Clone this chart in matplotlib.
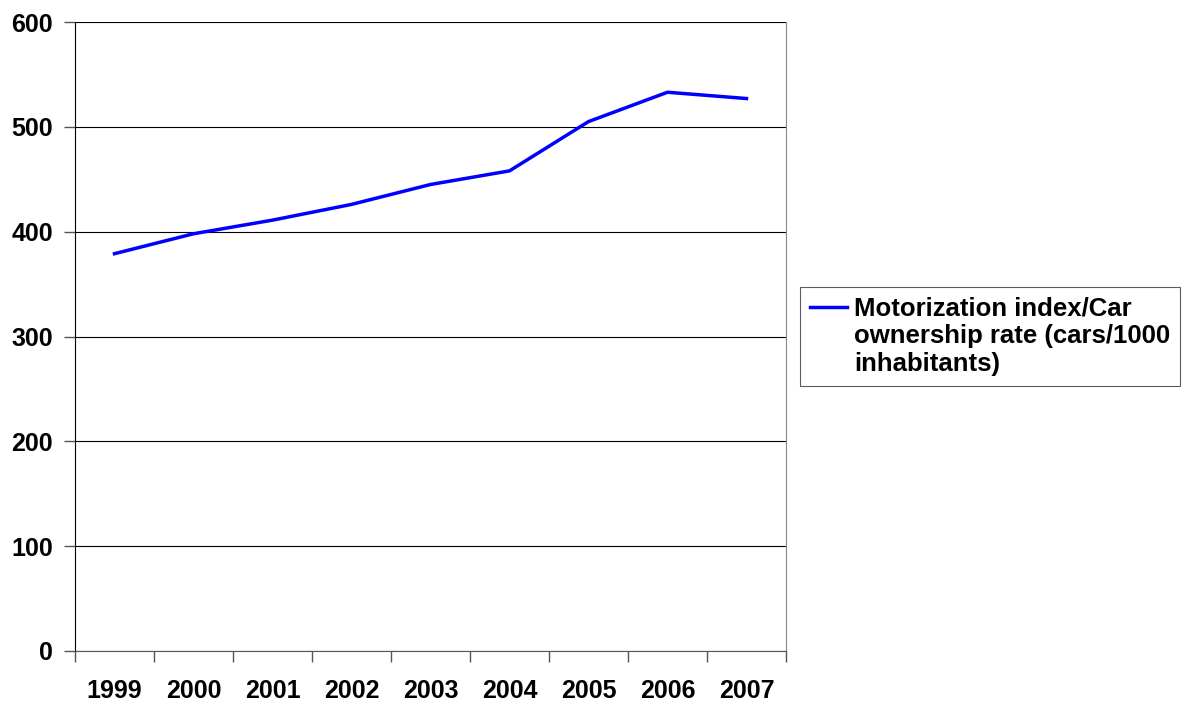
import matplotlib.pyplot as plt
from matplotlib.lines import Line2D
import numpy as np

plt.rcParams['font.family'] = ['Liberation Sans', 'DejaVu Sans']

# data
years = ["1999", "2000", "2001", "2002", "2003", "2004", "2005", "2006", "2007"]
motorization = [379, 398, 411, 426, 445, 458, 505, 533, 527]
label_lines = ["Motorization index/Car", "ownership rate (cars/1000", "inhabitants)"]

fig = plt.figure(figsize=(11.87, 7.02), dpi=100)
ax = fig.add_axes([75 / 1187, 1 - 651 / 702, (786 - 75) / 1187, (651 - 22) / 702])

x = np.arange(len(years))
line, = ax.plot(x, motorization, color="#0000ff", linewidth=2.5)

ax.set_xlim(-0.5, len(years) - 0.5)
ax.set_ylim(0, 600)
ax.set_yticks(range(0, 601, 100))
ax.set_yticklabels([str(v) for v in range(0, 601, 100)], fontsize=18, fontweight="bold")
ax.tick_params(axis="y", length=8, width=1, color="#555555", pad=8)

# category ticks on boundaries, labels in the middle
ax.set_xticks(np.arange(-0.5, len(years), 1.0))
ax.set_xticklabels([])
ax.set_xticks(x, minor=True)
ax.set_xticklabels(years, minor=True, fontsize=18, fontweight="bold")
ax.tick_params(axis="x", which="major", length=8, width=1, color="#555555")
ax.tick_params(axis="x", which="minor", length=0, pad=20)

ax.grid(axis="y", color="black", linewidth=0.8)
ax.set_axisbelow(True)
ax.spines["top"].set_visible(False)
ax.spines["left"].set_color("black")
ax.spines["bottom"].set_color("#555555")
ax.spines["right"].set_color("#888888")

# legend: line handle sits next to the first text line
blank = Line2D([], [], color="none")
leg = fig.legend([line, blank, blank], label_lines, loc="upper left",
                 bbox_to_anchor=(800 / 1187, 1 - 287 / 702),
                 prop={"size": 18.5, "weight": "bold"}, frameon=True, fancybox=False,
                 handlelength=1.45, handletextpad=0.27, borderpad=0.38,
                 labelspacing=0.14, borderaxespad=0)
leg.get_frame().set_edgecolor("#333333")
leg.get_frame().set_linewidth(0.8)

fig.savefig("out.png", dpi=100)
